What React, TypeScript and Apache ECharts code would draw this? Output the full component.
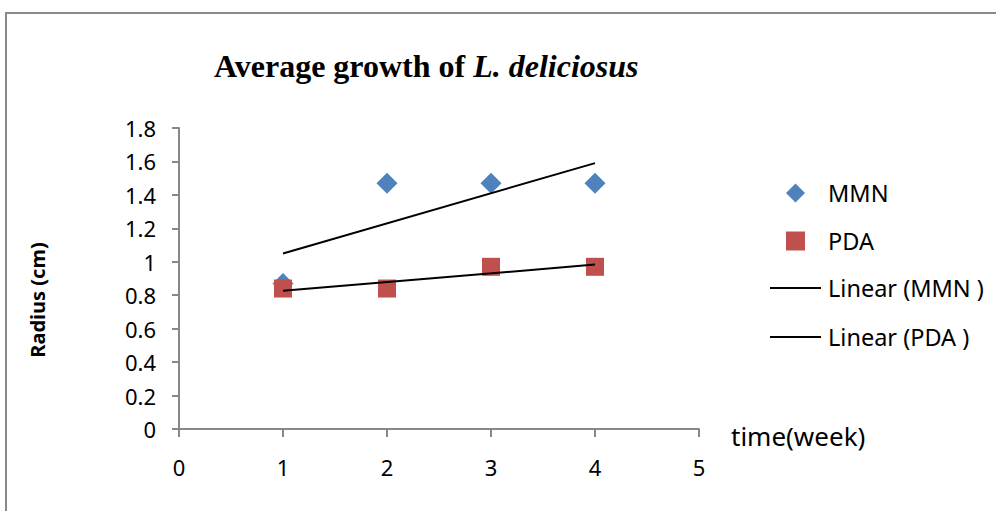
import React, { useEffect, useRef } from "react";
import * as echarts from "echarts";

// Weeks of measurement and mean colony radius (cm) on each medium
const weeks = [1, 2, 3, 4];
const mmnRadius = [0.87, 1.47, 1.47, 1.47];
const pdaRadius = [0.84, 0.84, 0.97, 0.97];

const yTicks = { min: 0, max: 1.8, interval: 0.2 };
const xTicks = { min: 0, max: 5, interval: 1 };

const SANS = "'Noto Sans', 'Open Sans', sans-serif";
const SERIF = "'Liberation Serif', 'DejaVu Serif', serif";
const AXIS_GREY = "#878787";

// Least-squares linear trend evaluated at the first and last week
function linearTrend(xs: number[], ys: number[]): number[][] {
  const n = xs.length;
  const mx = xs.reduce((a, b) => a + b, 0) / n;
  const my = ys.reduce((a, b) => a + b, 0) / n;
  let sxy = 0;
  let sxx = 0;
  for (let i = 0; i < n; i++) {
    sxy += (xs[i] - mx) * (ys[i] - my);
    sxx += (xs[i] - mx) * (xs[i] - mx);
  }
  const slope = sxy / sxx;
  const icpt = my - slope * mx;
  const x0 = xs[0];
  const x1 = xs[n - 1];
  return [
    [x0, icpt + slope * x0],
    [x1, icpt + slope * x1],
  ];
}

export default function App() {
  const ref = useRef<HTMLDivElement>(null);

  useEffect(() => {
    document.body.style.margin = "0";
    if (!ref.current) return;
    const chart = echarts.init(ref.current, undefined, { renderer: "svg" });

    const pair = (ys: number[]) => weeks.map((w, i) => [w, ys[i]]);
    const legendText = {
      fontFamily: SANS,
      fontSize: 23.5,
      color: "#000",
      lineHeight: 30,
    };

    chart.setOption({
      animation: false,
      backgroundColor: "#ffffff",
      title: {
        left: 209,
        top: 45,
        text: "{b|Average growth of }{i|L. deliciosus}",
        textStyle: {
          rich: {
            b: {
              fontFamily: SERIF,
              fontWeight: "bold",
              fontSize: 32,
              color: "#000",
            },
            i: {
              fontFamily: SERIF,
              fontWeight: "bold",
              fontStyle: "italic",
              fontSize: 32,
              color: "#000",
            },
          },
        },
      },
      legend: [
        {
          orient: "vertical",
          left: 786,
          top: 178,
          padding: 0,
          itemWidth: 19,
          itemHeight: 19,
          itemGap: 18,
          data: ["MMN", "PDA"],
          textStyle: { ...legendText, padding: [0, 0, 0, 18] },
        },
        {
          orient: "vertical",
          left: 770,
          top: 273,
          padding: 0,
          itemWidth: 51,
          itemHeight: 2,
          itemGap: 19,
          icon: "rect",
          itemStyle: { color: "#000" },
          data: ["Linear (MMN )", "Linear (PDA )"],
          textStyle: { ...legendText, padding: [0, 0, 0, 2] },
        },
      ],
      grid: { left: 179, right: 297, top: 128, bottom: 82 },
      xAxis: {
        type: "value",
        min: xTicks.min,
        max: xTicks.max,
        interval: xTicks.interval,
        name: "time(week)",
        nameLocation: "end",
        nameGap: 32,
        nameTextStyle: {
          fontFamily: SANS,
          fontSize: 26,
          color: "#000",
          verticalAlign: "top",
          lineHeight: 14,
        },
        splitLine: { show: false },
        axisLine: { lineStyle: { color: AXIS_GREY, width: 2 } },
        axisTick: { length: 8, lineStyle: { color: AXIS_GREY, width: 2 } },
        axisLabel: {
          margin: 27,
          fontFamily: SANS,
          fontSize: 22,
          color: "#000",
        },
      },
      yAxis: {
        type: "value",
        min: yTicks.min,
        max: yTicks.max,
        interval: yTicks.interval,
        splitLine: { show: false },
        axisLine: { show: true, lineStyle: { color: AXIS_GREY, width: 2 } },
        axisTick: { show: true, length: 7, lineStyle: { color: AXIS_GREY, width: 2 } },
        axisLabel: {
          margin: 23,
          fontFamily: SANS,
          fontSize: 22,
          color: "#000",
        },
      },
      graphic: [
        {
          type: "rect",
          shape: { x: 6, y: 13, width: 1100, height: 700 },
          style: { fill: "none", stroke: "#898989", lineWidth: 2 },
          silent: true,
        },
        {
          type: "text",
          x: 37,
          y: 300,
          rotation: Math.PI / 2,
          style: {
            text: "Radius (cm)",
            fontFamily: SANS,
            fontWeight: "bold",
            fontSize: 20,
            fill: "#000",
            align: "center",
            verticalAlign: "middle",
          },
        },
      ],
      series: [
        {
          name: "MMN",
          type: "scatter",
          symbol: "diamond",
          symbolSize: 21,
          itemStyle: { color: "#4F81BD", opacity: 1 },
          data: pair(mmnRadius),
        },
        {
          name: "PDA",
          type: "scatter",
          symbol: "rect",
          symbolSize: 18,
          itemStyle: { color: "#C0504D", opacity: 1 },
          data: pair(pdaRadius),
        },
        {
          name: "Linear (MMN )",
          type: "line",
          symbol: "none",
          showSymbol: false,
          lineStyle: { color: "#000", width: 2 },
          itemStyle: { color: "#000" },
          data: linearTrend(weeks, mmnRadius),
        },
        {
          name: "Linear (PDA )",
          type: "line",
          symbol: "none",
          showSymbol: false,
          lineStyle: { color: "#000", width: 2 },
          itemStyle: { color: "#000" },
          data: linearTrend(weeks, pdaRadius),
        },
      ],
    });

    return () => chart.dispose();
  }, []);

  return <div ref={ref} style={{ width: 996, height: 511 }} />;
}
